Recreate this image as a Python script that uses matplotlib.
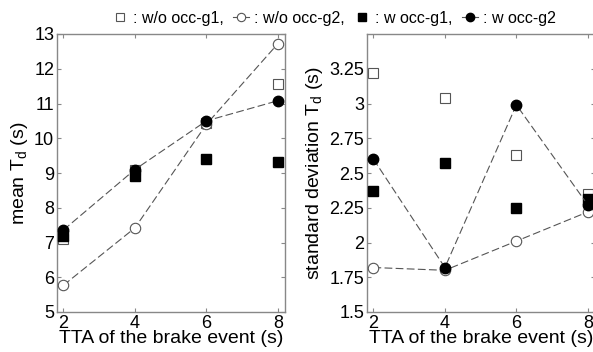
import numpy as np
import matplotlib.pyplot as plt
from matplotlib.lines import Line2D

plt.rcParams['font.family'] = ['Liberation Sans', 'DejaVu Sans']

# TTA of the brake event (s)
tta = [2, 4, 6, 8]

# mean Td (s)
mean_wo_g1 = [7.1, 9.1, 10.45, 11.55]
mean_wo_g2 = [5.77, 7.42, 10.4, 12.72]
mean_w_g1 = [7.2, 8.9, 9.4, 9.32]
mean_w_g2 = [7.36, 9.1, 10.5, 11.08]

# standard deviation Td (s)
std_wo_g1 = [3.22, 3.04, 2.63, 2.35]
std_wo_g2 = [1.82, 1.80, 2.01, 2.22]
std_w_g1 = [2.37, 2.57, 2.25, 2.31]
std_w_g2 = [2.60, 1.82, 2.99, 2.27]

grey = '#555555'
box = '#888888'


def draw(ax, wo_g1, wo_g2, w_g1, w_g2):
    ax.plot(tta, wo_g2, ls=(0, (7, 3)), lw=0.8, color=grey, marker='o', ms=7.5,
            mfc='white', mec=grey, mew=0.8, zorder=3)
    ax.plot(tta, w_g2, ls=(0, (7, 3)), lw=0.8, color=grey, marker='o', ms=7.5,
            mfc='black', mec='black', zorder=4)
    ax.plot(tta, wo_g1, ls='none', marker='s', ms=7, mfc='white', mec=grey,
            mew=0.8, zorder=2)
    ax.plot(tta, w_g1, ls='none', marker='s', ms=7, mfc='black', mec='black',
            zorder=3.5)
    ax.set_xlim(1.82, 8.2)
    ax.set_xticks(tta)
    ax.set_xlabel('TTA of the brake event (s)', fontsize=14, labelpad=-1)
    ax.tick_params(direction='in', top=True, right=True, labelsize=13,
                   length=3, color=box, pad=2)
    for s in ax.spines.values():
        s.set_color(box)
        s.set_linewidth(1.0)


fig = plt.figure(figsize=(5.93, 3.52), dpi=100)
ax1 = fig.add_axes([57 / 593, 1 - 312 / 352, 228 / 593, 278 / 352])
ax2 = fig.add_axes([367 / 593, 1 - 312 / 352, 228 / 593, 278 / 352])

draw(ax1, mean_wo_g1, mean_wo_g2, mean_w_g1, mean_w_g2)
ax1.set_ylim(5, 13)
ax1.set_yticks(range(5, 14))
ax1.set_ylabel('mean T$_\\mathregular{d}$ (s)', fontsize=14, labelpad=3)

draw(ax2, std_wo_g1, std_wo_g2, std_w_g1, std_w_g2)
ax2.set_ylim(1.5, 3.5)
ax2.set_yticks([1.5, 1.75, 2, 2.25, 2.5, 2.75, 3, 3.25])
ax2.set_yticklabels(['1.5', '1.75', '2', '2.25', '2.5', '2.75', '3', '3.25'])
ax2.set_ylabel('standard deviation T$_\\mathregular{d}$ (s)', fontsize=14, labelpad=3)

handles = [
    Line2D([], [], ls='none', marker='s', ms=6, mfc='white', mec=grey, mew=0.8),
    Line2D([], [], ls='-', lw=0.8, color=grey, marker='o', ms=6, mfc='white',
           mec=grey, mew=0.8),
    Line2D([], [], ls='none', marker='s', ms=6, mfc='black', mec='black'),
    Line2D([], [], ls='-', lw=0.8, color=grey, marker='o', ms=6, mfc='black',
           mec='black'),
]
labels = [': w/o occ-g1,', ': w/o occ-g2,', ': w occ-g1,', ': w occ-g2']
fig.legend(handles, labels, loc='center', bbox_to_anchor=(334 / 593, 1 - 18 / 352),
           ncol=4, frameon=False, fontsize=11.5, handlelength=1.0,
           handletextpad=0.3, columnspacing=0.6, borderpad=0)

fig.savefig('out.png', dpi=100)
